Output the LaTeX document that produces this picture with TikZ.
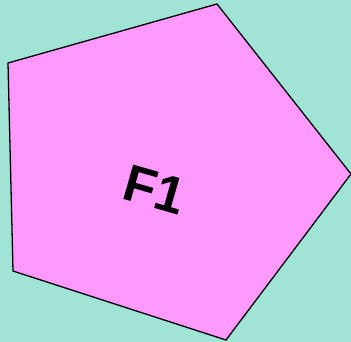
\documentclass[tikz,border=0pt]{standalone}
\usepackage{fontspec}
\setmainfont{Liberation Sans}
\usetikzlibrary{positioning}

\definecolor{bgteal}{RGB}{160,228,214}
\definecolor{facepink}{RGB}{255,153,255}

\begin{document}
\begin{tikzpicture}[
    x=1pt, y=-1pt,
    face/.style={draw=black, line width=1.3pt, fill=facepink, line join=miter},
    facelabel/.style={font=\fontsize{52}{52}\selectfont\bfseries, text=black, rotate=-16, inner sep=0pt}
  ]

  % background
  \fill[bgteal] (0,0) rectangle (351,342);
  \useasboundingbox (0,0) rectangle (351,342);

  % pentagon F1
  \coordinate (p1) at (217,4);
  \coordinate (p2) at (351,174);
  \coordinate (p3) at (226,340);
  \coordinate (p4) at (13,271);
  \coordinate (p5) at (8,63);
  \draw[face] (p1) -- (p2) -- (p3) -- (p4) -- (p5) -- cycle;

  \node[facelabel] (f1) at (155,190) {F1};

\end{tikzpicture}
\end{document}
